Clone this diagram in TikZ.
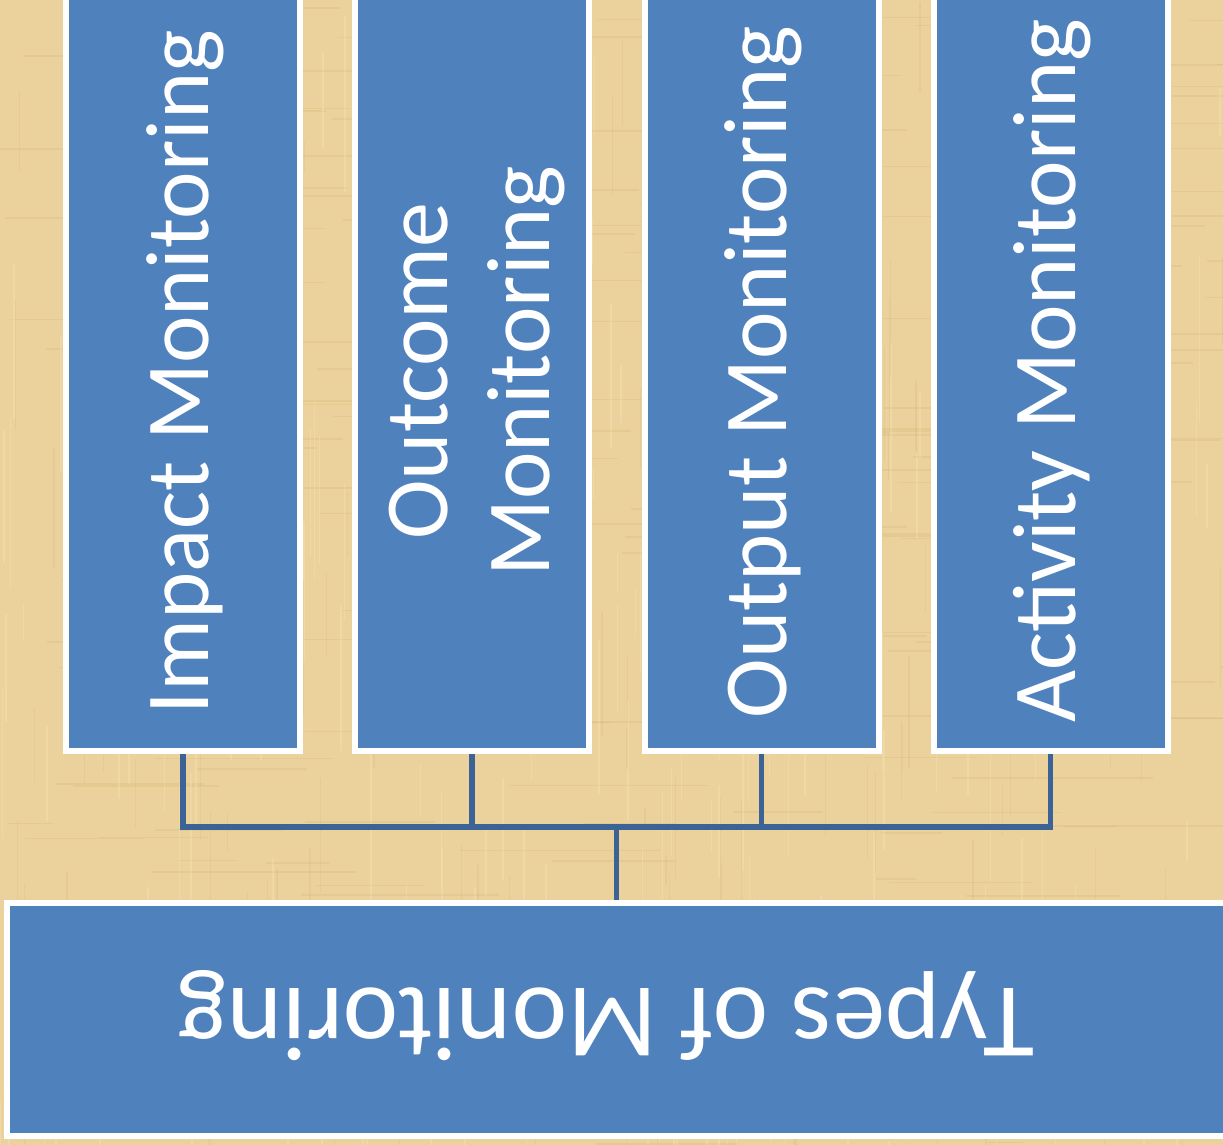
\documentclass[tikz,border=0pt]{standalone}
\usepackage{fontspec}
\setmainfont{Carlito}
\pgfdeclarelayer{paper}
\pgfdeclarelayer{links}
\pgfsetlayers{paper,links,main}
\definecolor{paperbg}{RGB}{235,210,156}
\definecolor{paperdark}{RGB}{205,172,110}
\definecolor{paperlight}{RGB}{250,230,185}
\definecolor{boxblue}{RGB}{79,129,189}
\definecolor{linkblue}{RGB}{59,99,150}
\tikzset{
  typebox/.style={draw=white, line width=6pt, fill=boxblue, rectangle, inner sep=0pt},
  vlabel/.style={text=white, font=\fontsize{90}{100}\selectfont, rotate=90, anchor=base, inner sep=0pt},
  hlabel/.style={text=white, font=\fontsize{105}{115}\selectfont, rotate=180, anchor=base, inner sep=0pt},
  link/.style={draw=linkblue, line width=5.5pt}
}
\begin{document}
\begin{tikzpicture}[x=1pt,y=-1pt]
\useasboundingbox (0,0) rectangle (1223,1145);
\begin{pgfonlayer}{paper}
  \fill[paperbg] (0,0) rectangle (1223,1145);
  \pgfmathsetseed{7}
  \foreach \i in {1,...,260}{
    \pgfmathsetmacro\xx{rnd*1223}
    \pgfmathsetmacro\yy{rnd*1145}
    \pgfmathsetmacro\ll{30+rnd*180}
    \draw[paperdark, opacity=0.22, line width=1.6pt] (\xx,\yy) -- ++(\ll,0);
  }
  \foreach \i in {1,...,260}{
    \pgfmathsetmacro\xx{rnd*1223}
    \pgfmathsetmacro\yy{rnd*1145}
    \pgfmathsetmacro\ll{30+rnd*150}
    \draw[paperlight, opacity=0.35, line width=1.6pt] (\xx,\yy) -- ++(0,\ll);
  }
  \foreach \i in {1,...,160}{
    \pgfmathsetmacro\xx{rnd*1223}
    \pgfmathsetmacro\yy{rnd*1145}
    \pgfmathsetmacro\ll{20+rnd*120}
    \draw[paperdark, opacity=0.18, line width=1.2pt] (\xx,\yy) -- ++(0,\ll);
  }
\end{pgfonlayer}

% child boxes
\node[typebox, minimum width=234pt, minimum height=763pt] (b1) at (183,369.5) {};
\node[typebox, minimum width=234pt, minimum height=763pt] (b2) at (472,369.5) {};
\node[typebox, minimum width=234pt, minimum height=763pt] (b3) at (761.5,369.5) {};
\node[typebox, minimum width=234pt, minimum height=763pt] (b4) at (1050.5,369.5) {};

% parent box
\node[typebox, minimum width=1219pt, minimum height=233pt] (top) at (616.5,1019.5) {};

% labels
\node[vlabel] (t1) at (208,372) {Impact Monitoring};
\node[vlabel] (t2a) at (447,371) {Outcome};
\node[vlabel] (t2b) at (549,371) {Monitoring};
\node[vlabel] (t3) at (786,372) {Output Monitoring};
\node[vlabel] (t4) at (1075,371) {Activity Monitoring};
\node[hlabel] (t0) at (606,988) {Types of Monitoring};

% connectors
\coordinate (bus) at (616.5,827);
\begin{pgfonlayer}{links}
  \draw[link] (b1.south) |- (bus);
  \draw[link] (b2.south) |- (bus);
  \draw[link] (b3.south) |- (bus);
  \draw[link] (b4.south) |- (bus);
  \draw[link] (bus) -- (top.north);
\end{pgfonlayer}
\end{tikzpicture}
\end{document}
